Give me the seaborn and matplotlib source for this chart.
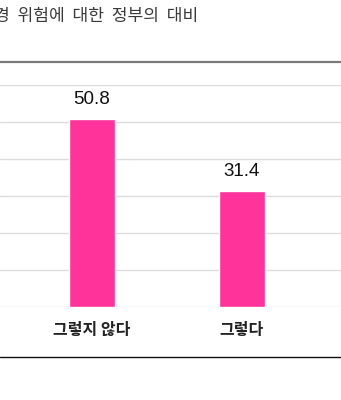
import matplotlib
matplotlib.use("Agg")
import matplotlib.pyplot as plt
import seaborn as sns
import pandas as pd
from matplotlib.lines import Line2D

categories = ["그렇지 않다", "그렇다"]
values = [50.8, 31.4]
title_text = "경  위험에  대한  정부의  대비"
y_ticks = [0, 10, 20, 30, 40, 50, 60]

sns.set_theme(style="white")
plt.rcParams['font.family'] = ['Noto Sans CJK KR', 'DejaVu Sans']

W, H = 341, 400
fig = plt.figure(figsize=(W / 100, H / 100), dpi=100)
ax = fig.add_axes([0, (H - 307) / H, 1, (307 - 85) / H])

df = pd.DataFrame({"cat": categories, "val": values})
sns.barplot(data=df, x="cat", y="val", color="#FF3399", width=0.31,
            saturation=1, ax=ax, zorder=3)

ax.set_ylim(0, 60)
ax.set_xlim(-92 / 150, 1 + 99 / 150)
ax.set_yticks(y_ticks)
ax.set_yticklabels([])
ax.grid(axis="y", color="#dcdcdc", linewidth=1.0, zorder=0)
ax.set_axisbelow(True)
for s in ax.spines.values():
    s.set_visible(False)
ax.set_xlabel("")
ax.set_ylabel("")
ax.tick_params(axis="x", length=0, pad=11, labelsize=11.5, labelcolor="#222222")
ax.tick_params(axis="y", length=0)
for lbl in ax.get_xticklabels():
    lbl.set_fontweight("bold")

for cont in ax.containers:
    ax.bar_label(cont, labels=[f"{v:.1f}" for v in values], padding=8,
                 fontsize=13.5, color="#111111", family=['Liberation Sans', 'DejaVu Sans'])

fig.text(-6 / W, 1 - 16 / H, title_text, fontsize=12.3, color="#3a3a3a",
         ha="left", va="center")

fig.add_artist(Line2D([0, 1], [1 - 62 / H, 1 - 62 / H], transform=fig.transFigure,
                      color="#7a7a7a", linewidth=1.6))
fig.add_artist(Line2D([0, 1], [1 - 357 / H, 1 - 357 / H], transform=fig.transFigure,
                      color="#111111", linewidth=1.0))

fig.savefig("out.png", dpi=100)
